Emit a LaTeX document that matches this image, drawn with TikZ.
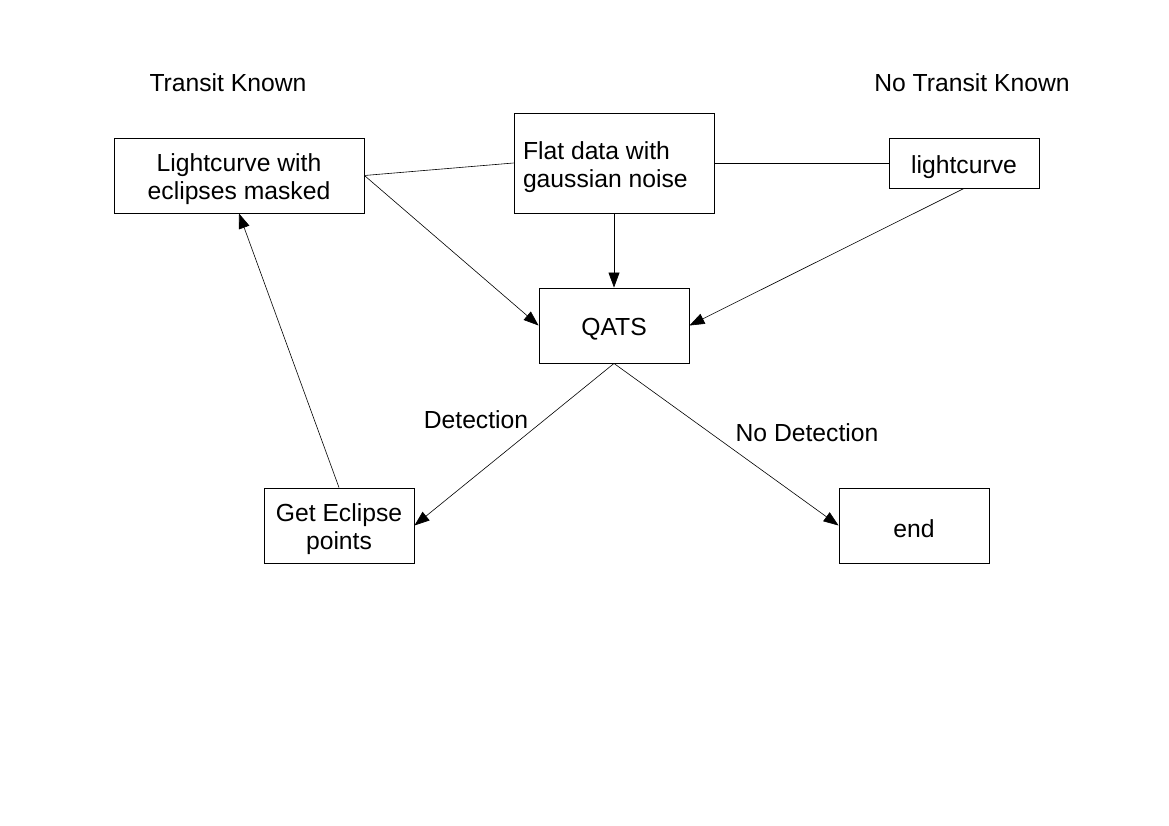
\documentclass[tikz,border=0pt]{standalone}
\usepackage{fontspec}
\setmainfont{Liberation Sans}
\usetikzlibrary{arrows.meta}
\newcommand{\tstrut}[1]{\rule{0pt}{#1pt}}
\begin{document}
\begin{tikzpicture}[x=1pt,y=-1pt,
  box/.style={draw, line width=0.9pt, inner sep=0pt, align=center, font=\fontsize{24.7}{28}\selectfont},
  lbl/.style={inner sep=0pt, font=\fontsize{24.7}{28}\selectfont},
  conn/.style={line width=0.6pt},
  arr/.style={line width=0.6pt, -{Triangle[length=15pt,width=11pt]}}]
\path[use as bounding box, fill=white] (0,0) rectangle (1169,826);
\node[box, minimum width=250pt, minimum height=75pt] (A) at (239,175.5) {\tstrut{25.5}Lightcurve with\\eclipses masked};
\node[box, minimum width=200pt, minimum height=100pt, text width=182pt, inner xsep=9pt, align=flush left] (B) at (614,163) {\tstrut{26}Flat data with\\gaussian noise};
\node[box, minimum width=150pt, minimum height=50pt] (C) at (964,163) {\tstrut{26}lightcurve};
\node[box, minimum width=150pt, minimum height=75pt] (Q) at (614,325.5) {\tstrut{24}QATS};
\node[box, minimum width=150pt, minimum height=75pt] (G) at (339,525.5) {\tstrut{25.5}Get Eclipse\\points};
\node[box, minimum width=150pt, minimum height=75pt] (E) at (914,525.5) {\tstrut{23.5}end};
\node[lbl] (tk) at (228,83) {Transit Known};
\node[lbl] (ntk) at (972,83) {No Transit Known};
\node[lbl] (det) at (476,420) {Detection};
\node[lbl] (ndet) at (807,433) {No Detection};
\draw[conn] (A.east) -- (B.west);
\draw[conn] (B.east) -- (C.west);
\draw[arr] (A.east) -- (Q.west);
\draw[arr] (B.south) -- (Q.north);
\draw[arr] (C.south) -- (Q.east);
\draw[arr] (Q.south) -- (G.east);
\draw[arr] (Q.south) -- (E.west);
\draw[arr] (G.north) -- (A.south);
\end{tikzpicture}
\end{document}
